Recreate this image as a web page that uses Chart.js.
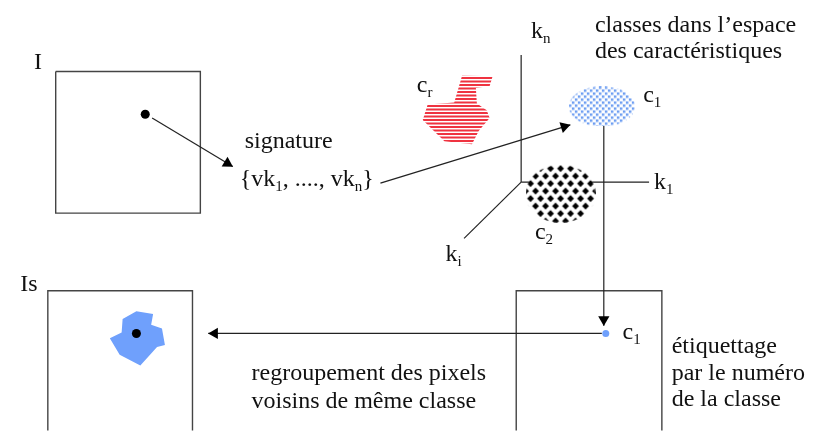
<!DOCTYPE html>
<html>
<head>
<title>Classification dans l'espace des caractéristiques</title>
<script src="https://cdn.jsdelivr.net/npm/chart.js"></script>
<style>
  body { margin: 0; background: #fff; }
  canvas { display: block; }
</style>
</head>
<body>
<canvas id="diagram" width="814" height="437"></canvas>
<script>
// image frames, as [x, y] points on a 814 x 437 plane
const boxI = [[50, 67], [197, 67], [197, 213], [50, 213], [50, 67]];
const boxIs = [[42, 437], [42, 293], [189, 293], [189, 437]];
const boxLabels = [[518, 437], [518, 293], [666, 293], [666, 437]];

// feature space axes
const axisKn = [[523, 50], [523, 181]];
const axisK1 = [[523, 181], [653, 181]];
const axisKi = [[523, 181], [465, 239]];

// arrows: [from, tip]
const arrows = [
  [[148, 115], [230, 165]],
  [[380, 182], [573, 122]],
  [[607, 123], [607, 329]],
  [[605, 337], [205, 337]]
];

const blackDots = [[141, 111], [132, 337]];
const labelDots = [[609, 337]];

// class regions
const classR = [[463, 71], [494, 72], [491, 82], [477, 84], [478, 100], [488, 107], [491, 115],
  [480, 128], [473, 142], [445, 139], [423, 117], [428, 101], [455, 99]];
const blob = [[118, 322], [132, 314], [149, 317], [147, 328], [158, 332], [161, 349], [153, 351],
  [136, 370], [115, 359], [105, 342], [117, 336]];
const classC1 = { center: [605, 103], size: [66, 40] };
const classC2 = { center: [563, 193], size: [70, 58] };

// texts: [left, baseline, parts], a part is [text, isSubscript]
const texts = [
  [28, 64, [['I']]],
  [14, 293, [['Is']]],
  [242, 146, [['signature']]],
  [237, 185, [['{vk'], ['1', true], [', ...., vk'], ['n', true], ['}']]],
  [417, 88, [['c'], ['r', true]]],
  [533, 32, [['k'], ['n', true]]],
  [647, 98, [['c'], ['1', true]]],
  [658, 188, [['k'], ['1', true]]],
  [537, 240, [['c'], ['2', true]]],
  [446, 262, [['k'], ['i', true]]],
  [626, 343, [['c'], ['1', true]]],
  [598, 26, [['classes dans l\u2019espace']]],
  [598, 53, [['des caract\u00e9ristiques']]],
  [249, 385, [['regroupement des pixels']]],
  [249, 414, [['voisins de m\u00eame classe']]],
  [676, 357, [['\u00e9tiquettage']]],
  [676, 385, [['par le num\u00e9ro']]],
  [676, 412, [['de la classe']]]
];

const mainFont = '24px "Liberation Serif"';
const subFont = '15px "Liberation Serif"';
const HEAD = 6.5;

const pts = arr => arr.map(([x, y]) => ({ x, y }));

function tile(w, h, draw) {
  const c = document.createElement('canvas');
  c.width = w; c.height = h;
  draw(c.getContext('2d'));
  return c;
}

const stripes = tile(1, 7, g => {
  g.fillStyle = '#fff'; g.fillRect(0, 0, 1, 7);
  g.fillStyle = '#ef3340'; g.fillRect(0, 0, 1, 2); g.fillRect(0, 3.5, 1, 2);
});
const dotsBlue = tile(6, 6, g => {
  g.fillStyle = '#fff'; g.fillRect(0, 0, 6, 6);
  g.fillStyle = '#6b9cf2'; g.fillRect(0, 0, 2.5, 2.5); g.fillRect(3, 3, 2.5, 2.5);
});
const diamonds = tile(10, 15, g => {
  g.fillStyle = '#fff'; g.fillRect(0, 0, 10, 15);
  g.fillStyle = '#000';
  [[5, 3.75], [0, 11.25], [10, 11.25]].forEach(([cx, cy]) => {
    g.beginPath();
    g.moveTo(cx, cy - 3.4); g.lineTo(cx + 3.4, cy); g.lineTo(cx, cy + 3.4); g.lineTo(cx - 3.4, cy);
    g.closePath(); g.fill();
  });
});

function ellipseImage(size, pattern) {
  return tile(size[0], size[1], g => {
    g.beginPath();
    g.ellipse(size[0] / 2, size[1] / 2, size[0] / 2, size[1] / 2, 0, 0, Math.PI * 2);
    g.fillStyle = g.createPattern(pattern, 'repeat');
    g.fill();
  });
}

const ctx = document.getElementById('diagram').getContext('2d');

// arrow heads sit on the tip, rotated along the arrow
const heads = arrows.map(([a, b]) => {
  const dx = b[0] - a[0], dy = b[1] - a[1];
  const len = Math.hypot(dx, dy);
  return { x: b[0] - dx / len * HEAD, y: b[1] - dy / len * HEAD, rot: Math.atan2(dx, -dy) * 180 / Math.PI };
});

const line = (data, width, color) => ({
  data: pts(data), showLine: true, fill: false, pointRadius: 0,
  borderColor: color || '#222', borderWidth: width || 1.2, clip: false
});

// listed bottom to top; reversed below because Chart.js paints the first dataset last
const layers = [
  { data: pts(classR), showLine: true, fill: 'shape', borderWidth: 0, pointRadius: 0,
    backgroundColor: ctx.createPattern(stripes, 'repeat') },
  { data: pts(blob), showLine: true, fill: 'shape', borderWidth: 0, pointRadius: 0,
    backgroundColor: '#6fa0fc' },
  line(boxI, 1.4, '#444'),
  line(boxIs, 1.4, '#444'),
  line(boxLabels, 1.4, '#444'),
  line(axisKn),
  line(axisK1),
  line(axisKi),
  ...arrows.map(a => line(a)),
  { data: pts([classC1.center]), pointStyle: ellipseImage(classC1.size, dotsBlue), pointRadius: 1 },
  { data: pts([classC2.center]), pointStyle: ellipseImage(classC2.size, diamonds), pointRadius: 1 },
  { data: heads.map(h => ({ x: h.x, y: h.y })), pointStyle: 'triangle', pointRadius: HEAD,
    pointRotation: heads.map(h => h.rot), backgroundColor: '#000', borderWidth: 0, clip: false },
  { data: pts(blackDots), pointRadius: 4.5, backgroundColor: '#000', borderWidth: 0 },
  { data: pts(labelDots), pointRadius: 3.5, backgroundColor: '#6fa0fc', borderWidth: 0 }
];
const datasets = layers.slice().reverse();

const textPlugin = {
  id: 'texts',
  afterDatasetsDraw(chart) {
    const { ctx, scales: { x, y } } = chart;
    ctx.save();
    ctx.fillStyle = '#111';
    ctx.textBaseline = 'alphabetic';
    texts.forEach(([tx, ty, parts]) => {
      let px = x.getPixelForValue(tx);
      const py = y.getPixelForValue(ty);
      parts.forEach(([s, sub]) => {
        ctx.font = sub ? subFont : mainFont;
        ctx.fillText(s, px, py + (sub ? 5 : 0));
        px += ctx.measureText(s).width;
      });
    });
    ctx.restore();
  }
};

new Chart(ctx, {
  type: 'scatter',
  data: { datasets },
  options: {
    responsive: false,
    animation: false,
    layout: { padding: 0 },
    plugins: { legend: { display: false }, tooltip: { enabled: false } },
    scales: {
      x: { type: 'linear', min: 0, max: 814, display: false },
      y: { type: 'linear', min: 0, max: 437, reverse: true, display: false }
    }
  },
  plugins: [textPlugin]
});
</script>
</body>
</html>
